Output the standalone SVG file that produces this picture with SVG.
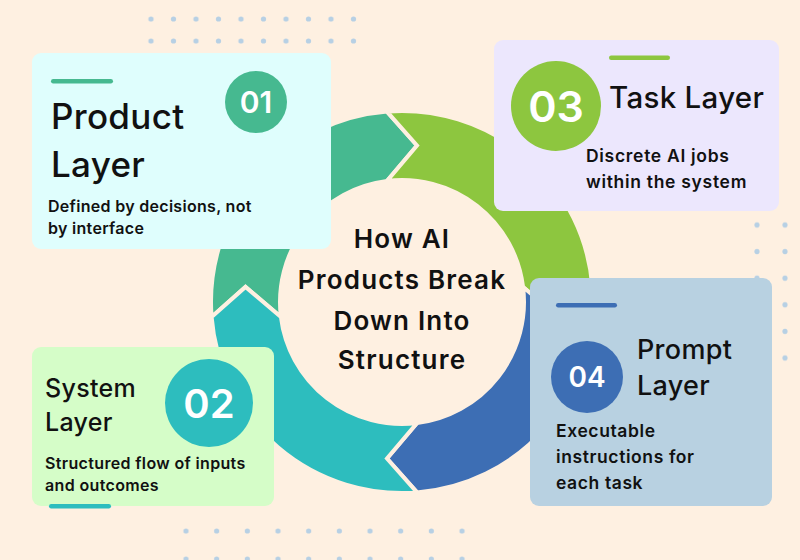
<svg xmlns="http://www.w3.org/2000/svg" xmlns:xlink="http://www.w3.org/1999/xlink" width="800" height="560" viewBox="0 0 800 560">
<style>
  .txt { font-family: Inter, "Noto Sans", "Liberation Sans", sans-serif; fill: #111111; }
  .head { font-weight: 500; letter-spacing: 0.3px; }
  .body { font-weight: 600; }
  .num { font-family: Inter, "Noto Sans", "Liberation Sans", sans-serif; font-weight: 600; fill: #ffffff; text-anchor: middle; dominant-baseline: central; }
  .title { font-weight: 600; font-size: 26px; letter-spacing: 1.2px; text-anchor: middle; }
  .seg { stroke: #FEF0E1; stroke-width: 4; stroke-linejoin: miter; }
  .dot { fill: #B7D0E4; }
</style>
<defs>
  <pattern id="dotsTop" patternUnits="userSpaceOnUse" x="139.75" y="8" width="22.5" height="22">
    <circle class="dot" cx="11.25" cy="11" r="2.6"/>
  </pattern>
  <pattern id="dotsRight" patternUnits="userSpaceOnUse" x="743" y="211.7" width="28" height="26.6">
    <circle class="dot" cx="14" cy="13.3" r="2.6"/>
  </pattern>
  <pattern id="dotsBottom" patternUnits="userSpaceOnUse" x="170.67" y="517" width="30.67" height="28">
    <circle class="dot" cx="15.33" cy="14" r="2.6"/>
  </pattern>
  <path id="segment" d="M -190.41,15 A 191 191 0 0 1 -15,-190.41 L 15,-156.5 L -15,-121.07 A 122 122 0 0 0 -121.07,15 L -156.5,-15 Z"/>
</defs>

<rect x="0" y="0" width="800" height="560" fill="#FEF0E1"/>

<g id="decor-dots">
  <rect x="139.75" y="8" width="225" height="44" fill="url(#dotsTop)"/>
  <rect x="743" y="211.7" width="56" height="159.6" fill="url(#dotsRight)"/>
  <rect x="170.67" y="517" width="306.7" height="43" fill="url(#dotsBottom)"/>
</g>

<g id="connectors" transform="translate(402,302)">
  <use xlink:href="#segment" href="#segment" class="seg" fill="#46B990"/>
  <use xlink:href="#segment" href="#segment" class="seg" fill="#8DC63F" transform="rotate(90)"/>
  <use xlink:href="#segment" href="#segment" class="seg" fill="#3D6EB4" transform="rotate(180)"/>
  <use xlink:href="#segment" href="#segment" class="seg" fill="#2DBDBE" transform="rotate(270)"/>
</g>

<g id="center-title">
  <text class="txt title" x="402" y="248">How AI</text>
  <text class="txt title" x="402" y="289">Products Break</text>
  <text class="txt title" x="402" y="330">Down Into</text>
  <text class="txt title" x="402" y="369">Structure</text>
</g>

<g id="node-product-layer">
  <rect x="32" y="53" width="299" height="196" rx="9" fill="#DFFEFD"/>
  <rect x="51" y="79" width="62" height="4.5" rx="2.2" fill="#46B990"/>
  <circle cx="256" cy="102" r="31" fill="#46B990"/>
  <text class="num" x="256" y="102" font-size="30">01</text>
  <text class="txt head" x="51" y="129" font-size="35">Product</text>
  <text class="txt head" x="51" y="177" font-size="35">Layer</text>
  <text class="txt body" x="48" y="212" font-size="16" letter-spacing="0.3">Defined by decisions, not</text>
  <text class="txt body" x="48" y="234" font-size="16" letter-spacing="0.3">by interface</text>
</g>

<g id="node-task-layer">
  <rect x="494" y="40" width="285" height="171" rx="9" fill="#ECE7FD"/>
  <rect x="609" y="55.5" width="61" height="4.5" rx="2.2" fill="#8DC63F"/>
  <circle cx="556" cy="106" r="45" fill="#8DC63F"/>
  <text class="num" x="556" y="106" font-size="43">03</text>
  <text class="txt head" x="609" y="108" font-size="29.5">Task Layer</text>
  <text class="txt body" x="586" y="162" font-size="17.5" letter-spacing="0.7">Discrete AI jobs</text>
  <text class="txt body" x="586" y="188" font-size="17.5" letter-spacing="0.7">within the system</text>
</g>

<g id="node-system-layer">
  <rect x="32" y="347" width="242" height="159" rx="9" fill="#D5FDC8"/>
  <rect x="49" y="504" width="62" height="4.5" rx="2.2" fill="#2DBDBE"/>
  <circle cx="209" cy="403" r="44" fill="#2DBDBE"/>
  <text class="num" x="209" y="403" font-size="40">02</text>
  <text class="txt head" x="45" y="397" font-size="25">System</text>
  <text class="txt head" x="45" y="431" font-size="25">Layer</text>
  <text class="txt body" x="45" y="469" font-size="16" letter-spacing="0.35">Structured flow of inputs</text>
  <text class="txt body" x="45" y="491" font-size="16" letter-spacing="0.35">and outcomes</text>
</g>

<g id="node-prompt-layer">
  <rect x="530" y="278" width="242" height="228" rx="9" fill="#B8D1E1"/>
  <rect x="556" y="303" width="61" height="4.5" rx="2.2" fill="#3D6EB4"/>
  <circle cx="587" cy="377" r="36" fill="#3D6EB4"/>
  <text class="num" x="587" y="377" font-size="28">04</text>
  <text class="txt head" x="637" y="359" font-size="27">Prompt</text>
  <text class="txt head" x="637" y="395" font-size="27">Layer</text>
  <text class="txt body" x="556" y="437" font-size="17.5" letter-spacing="0.6">Executable</text>
  <text class="txt body" x="556" y="463" font-size="17.5" letter-spacing="0.6">instructions for</text>
  <text class="txt body" x="556" y="489" font-size="17.5" letter-spacing="0.6">each task</text>
</g>
</svg>
